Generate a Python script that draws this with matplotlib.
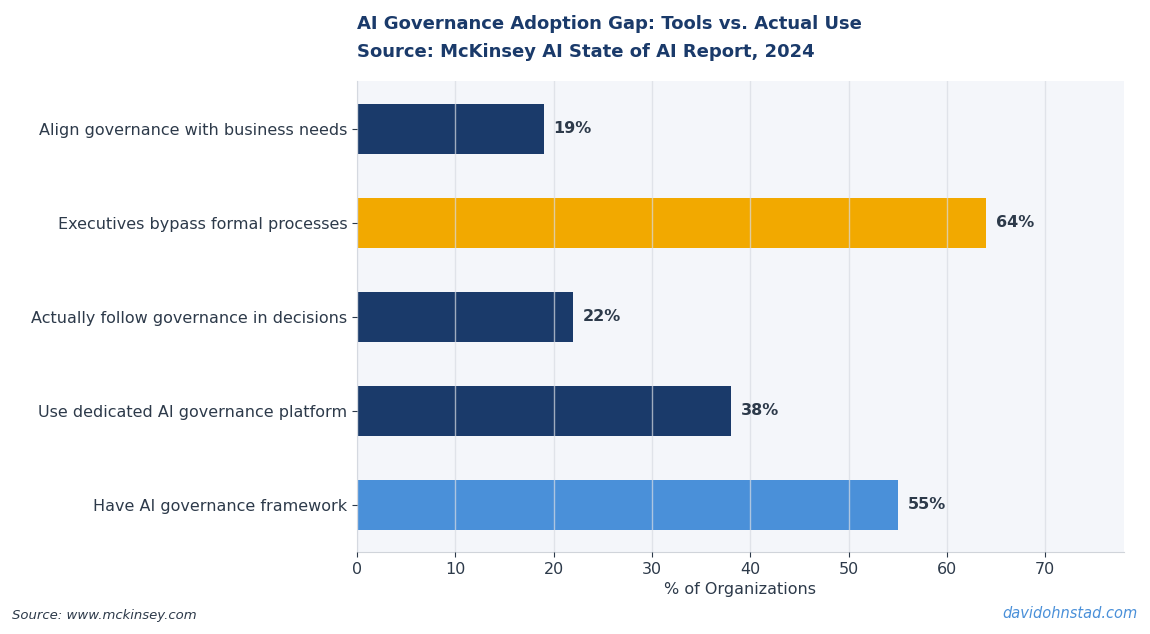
import matplotlib
matplotlib.use("Agg")
import matplotlib.pyplot as plt

categories = ["Have AI governance framework", "Use dedicated AI governance platform",
              "Actually follow governance in decisions", "Executives bypass formal processes",
              "Align governance with business needs"]
values = [55, 38, 22, 64, 19]
colors = ["#4a90d9", "#1a3a6a", "#1a3a6a", "#f2a900", "#1a3a6a"]

fig = plt.figure(figsize=(11.5, 6.34), dpi=100)
ax = fig.add_axes([357/1150, 1-552/634, (1124-357)/1150, (552-81)/634])
ax.set_facecolor("#f4f6fa")
ax.barh(range(len(values)), values, height=0.53, color=colors, zorder=2)
for i, v in enumerate(values):
    ax.text(v + 1, i, f"{v}%", va="center", ha="left", fontsize=11.5,
            fontweight="bold", color="#2d3a4a")
ax.set_yticks(range(len(values)))
ax.set_yticklabels(categories, fontsize=11.5, color="#2d3a4a")
ax.set_xlim(0, 78)
ax.set_ylim(-0.5, 4.51)
ax.set_xticks(range(0, 80, 10))
ax.tick_params(axis="x", labelsize=11.5, colors="#2d3a4a")
ax.tick_params(axis="y", colors="#2d3a4a")
ax.grid(axis="x", color="#d8dce3", alpha=0.7, linewidth=1, zorder=3)
ax.set_axisbelow(False)
for s in ["top", "right"]:
    ax.spines[s].set_visible(False)
for s in ["left", "bottom"]:
    ax.spines[s].set_color("#d0d4da")
ax.set_xlabel("% of Organizations", fontsize=11.5, color="#2d3a4a")
fig.text(357/1150, 1-24/634, "AI Governance Adoption Gap: Tools vs. Actual Use",
         fontsize=13, fontweight="bold", color="#1a3a6a", va="center")
fig.text(357/1150, 1-52/634, "Source: McKinsey AI State of AI Report, 2024",
         fontsize=13, fontweight="bold", color="#1a3a6a", va="center")
fig.text(12/1150, 1-615/634, "Source: www.mckinsey.com", fontsize=9.5,
         style="italic", color="#2d3a4a", va="center")
fig.text(1138/1150, 1-614/634, "davidohnstad.com", fontsize=10.5,
         style="italic", color="#4a90d9", va="center", ha="right")
fig.savefig("out.png", dpi=100)
